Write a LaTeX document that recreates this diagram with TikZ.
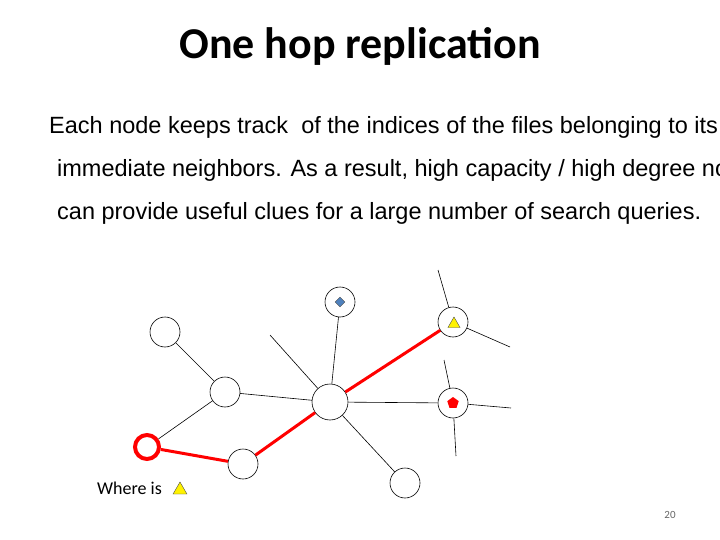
\documentclass[tikz,border=0pt]{standalone}
\usepackage{fontspec}
\setmainfont{Liberation Sans}
\newfontfamily\carlitofont{Carlito}
\usetikzlibrary{shapes.geometric}
\begin{document}
\begin{tikzpicture}[x=1pt,y=-1pt,
  nd/.style={circle,draw,line width=0.6pt,minimum size=30pt,inner sep=0pt},
  ln/.style={draw,line width=0.6pt},
  rl/.style={draw=red,line width=3pt},
  body/.style={anchor=base west,inner sep=0pt,font=\fontsize{23.5}{23.5}\selectfont}]
\useasboundingbox (0,0) rectangle (720,540);
\node[inner sep=0pt,font=\carlitofont\bfseries\fontsize{44}{44}\selectfont] (title) at (360,46) {One hop replication};
\node[body] (l1) at (49,134) {Each node keeps track\ \ of the indices of the files belonging to its};
\node[body] (l2) at (57,177) {immediate neighbors. As a result, high capacity / high degree nodes};
\node[body] (l3) at (57,220) {can provide useful clues for a large number of search queries.};
\node[nd] (a) at (165,332) {};
\node[nd] (b) at (225,392) {};
\node[circle,draw=red,line width=4pt,minimum size=24pt,inner sep=0pt] (r) at (147,447) {};
\node[nd] (c) at (243,464) {};
\node[nd,minimum size=36pt] (h) at (330,402) {};
\node[nd] (d) at (340,302) {};
\node[nd] (t) at (453,322) {};
\node[nd] (p) at (453,403) {};
\node[nd] (e) at (405,483) {};
\node[diamond,fill={rgb,255:red,79;green,129;blue,189},draw=black!70,inner sep=0pt,minimum size=10pt] (dm) at (d) {};
\node[regular polygon,regular polygon sides=3,fill=yellow,draw=black!70,inner sep=0pt,minimum size=14pt] (tr) at (454,324) {};
\node[regular polygon,regular polygon sides=5,fill=red,inner sep=0pt,minimum size=12pt] (pg) at (p) {};
\coordinate (f1) at (270,335);
\coordinate (f2) at (438,270);
\coordinate (f3) at (510,347);
\coordinate (f4) at (444,360);
\coordinate (f5) at (511,408);
\coordinate (f6) at (456,456);
\draw[ln] (a) -- (b); \draw[ln] (b) -- (r); \draw[ln] (b) -- (h);
\draw[ln] (h) -- (d); \draw[ln] (h) -- (p); \draw[ln] (h) -- (e); \draw[ln] (h) -- (f1);
\draw[ln] (t) -- (f2); \draw[ln] (t) -- (f3);
\draw[ln] (p) -- (f4); \draw[ln] (p) -- (f5); \draw[ln] (p) -- (f6);
\draw[rl] (r) -- (c); \draw[rl] (c) -- (h); \draw[rl] (h) -- (t);
\node[anchor=base west,inner sep=0pt,font=\carlitofont\fontsize{18}{18}\selectfont] (w) at (97,494) {Where is};
\node[regular polygon,regular polygon sides=3,fill=yellow,draw=black!70,inner sep=0pt,minimum size=16pt] (wt) at (180,490) {};
\node[anchor=base,inner sep=0pt,font=\carlitofont\fontsize{11}{11}\selectfont,text=black!60] (pn) at (670,518) {20};
\end{tikzpicture}
\end{document}
